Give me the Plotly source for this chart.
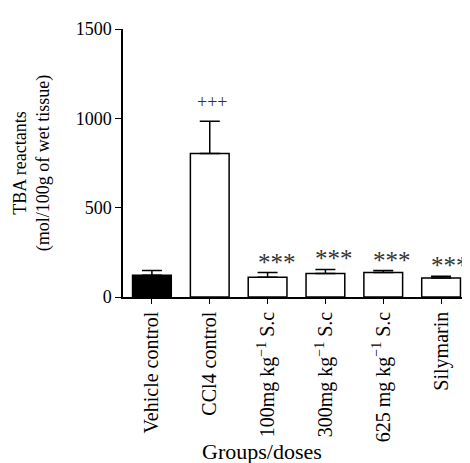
import plotly.graph_objects as go

groups = ["Vehicle control", "CCl4 control", "100mg kg<sup>−1</sup> S.c",
          "300mg kg<sup>−1</sup> S.c", "625 mg kg<sup>−1</sup> S.c", "Silymarin"]
means = [122, 803, 110, 131, 137, 107]
sems = [26, 180, 27, 23, 11, 9]
marks = ["", "+++", "***", "***", "***", "***"]
fills = ["black", "white", "white", "white", "white", "white"]

FONT = "Liberation Serif"

fig = go.Figure()
fig.add_trace(go.Bar(
    x=list(range(len(groups))), y=means,
    marker=dict(color=fills, line=dict(color="black", width=1.5)),
    width=0.67,
    error_y=dict(type="data", symmetric=False, array=sems,
                 arrayminus=[0] * len(sems), color="black", thickness=1.5, width=10),
    showlegend=False,
))

for i, (m, s, t) in enumerate(zip(means, sems, marks)):
    if t:
        star = t == "***"
        fig.add_annotation(x=i, y=m + s, text=t, showarrow=False,
                           yanchor="bottom", yshift=-5 if star else 7,
                           xshift=9 if star else 2,
                           font=dict(family=FONT, size=25 if star else 18,
                                     color="#333"))

fig.add_annotation(x=0.40, y=-0.632, xref="paper", yref="paper",
                   text="Groups/doses", showarrow=False,
                   font=dict(family=FONT, size=22, color="black"))

# page body has an 8px margin; compensate so the plot lands where the reference has it
fig.update_layout(
    width=470, height=463,
    margin=dict(l=115, r=8, t=21, b=174),
    paper_bgcolor="white", plot_bgcolor="white",
    font=dict(family=FONT, size=20, color="black"),
    xaxis=dict(
        range=[-0.5, 5.5], tickmode="array", tickvals=list(range(len(groups))),
        ticktext=groups, tickangle=-90, showline=True, linecolor="black",
        linewidth=1.5, ticks="outside", ticklen=5, tickcolor="black",
        showgrid=False, zeroline=False,
    ),
    yaxis=dict(
        range=[0, 1500], tickvals=[0, 500, 1000, 1500], showline=True,
        linecolor="black", linewidth=1.5, ticks="outside", ticklen=6,
        tickcolor="black", showgrid=False, zeroline=False,
        tickfont=dict(size=18),
        title=dict(text="TBA reactants<br>(mol/100g of wet tissue)",
                   font=dict(size=18), standoff=21),
    ),
)

fig.write_html("out.html")
